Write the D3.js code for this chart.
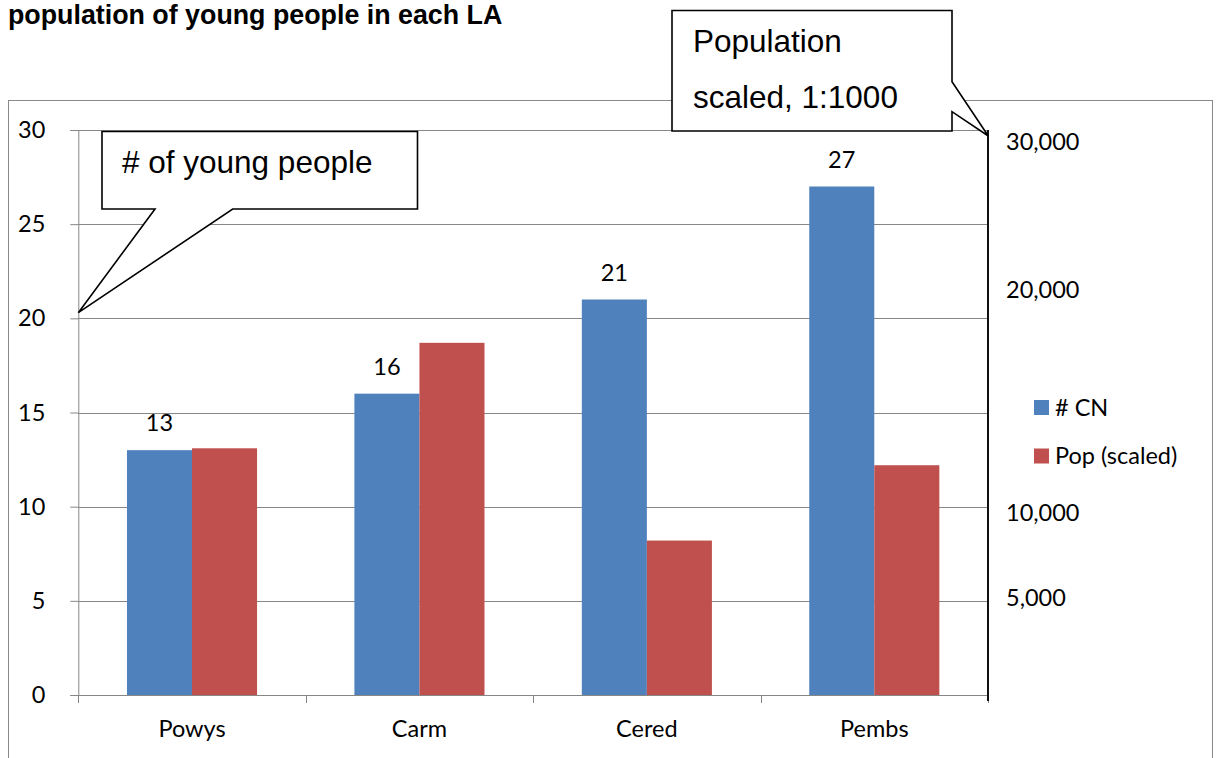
<!DOCTYPE html>
<html>
<head>
<meta charset="utf-8">
<script src="https://cdn.jsdelivr.net/npm/d3@7/dist/d3.min.js"></script>
<style>
	body { margin: 0; background: #fff; }
	svg { display: block; }
	.tick-lbl, .cat-lbl, .data-lbl, .legend-lbl, .right-lbl { font-family: Lato, "Open Sans", sans-serif; font-size: 23.5px; fill: #000; }
	.callout-txt { font-family: "Liberation Sans", Arial, sans-serif; font-size: 31.5px; fill: #000; }
</style>
</head>
<body>
<div id="chart"></div>
<script>
var categories = ['Powys', 'Carm', 'Cered', 'Pembs'];
var cnValues = [13, 16, 21, 27];
var popScaled = [13.1, 18.7, 8.2, 12.2];
var seriesNames = ['# CN', 'Pop (scaled)'];
var leftTicks = [0, 5, 10, 15, 20, 25, 30];
// right axis labels are hand placed in the original, these are the left-axis levels they sit at
var rightLabels = ['30,000', '20,000', '10,000', '5,000'];
var rightLevels = [29.4, 21.5, 9.7, 5.15];

var chart = (function(root){
	return {
		init: function(){
			var svg = d3.select('#chart').append('svg')
				.attr('width', 1218)
				.attr('height', 758);

			var colors = ['#4F81BD', '#C0504D'];
			var left = 78.3, right = 988, top = 130, bottom = 695;

			var y = d3.scaleLinear().domain([0, 30]).range([bottom, top]);
			var x = d3.scaleBand().domain(categories).range([left, right])
				.paddingInner(0.428).paddingOuter(0.214);
			var xs = d3.scaleBand().domain([0, 1]).range([0, x.bandwidth()]);

			// title (only the tail of it is in frame)
			svg.append('text')
				.attr('x', 8)
				.attr('y', 24)
				.style('font-family', '"Liberation Sans", Arial, sans-serif')
				.style('font-size', '26.8px')
				.style('font-weight', 'bold')
				.text('population of young people in each LA');

			// chart frame
			svg.append('rect')
				.attr('x', 8.5)
				.attr('y', 100.5)
				.attr('width', 1204)
				.attr('height', 700)
				.attr('fill', 'none')
				.attr('stroke', '#898989');

			// gridlines
			svg.append('g')
				.selectAll('line')
				.data(leftTicks.slice(1))
				.enter()
				.append('line')
				.attr('x1', left)
				.attr('x2', right)
				.attr('y1', function(d){ return Math.round(y(d)) + 0.5; })
				.attr('y2', function(d){ return Math.round(y(d)) + 0.5; })
				.attr('stroke', '#878787');

			// left axis
			var yAxis = svg.append('g')
				.attr('transform', 'translate(' + left + ',0)')
				.call(d3.axisLeft(y).tickValues(leftTicks).tickSize(8).tickPadding(25));
			yAxis.select('.domain').attr('stroke', '#868686');
			yAxis.selectAll('.tick line').attr('stroke', '#868686');
			yAxis.selectAll('.tick text').attr('class', 'tick-lbl').attr('font-family', null).attr('font-size', null);

			// bars
			var data = categories.map(function(c, i){ return { cat: c, vals: [cnValues[i], popScaled[i]] }; });
			var groups = svg.append('g')
				.selectAll('g')
				.data(data)
				.enter()
				.append('g')
				.attr('transform', function(d){ return 'translate(' + x(d.cat) + ',0)'; });

			groups.selectAll('rect')
				.data(function(d){ return d.vals; })
				.enter()
				.append('rect')
				.attr('x', function(d, i){ return xs(i); })
				.attr('y', function(d){ return y(d); })
				.attr('width', xs.bandwidth())
				.attr('height', function(d){ return y(0) - y(d); })
				.attr('fill', function(d, i){ return colors[i]; });

			// data labels on the blue bars
			groups.append('text')
				.attr('class', 'data-lbl')
				.attr('x', xs(0) + xs.bandwidth() / 2)
				.attr('y', function(d){ return y(d.vals[0]) - 19; })
				.attr('text-anchor', 'middle')
				.text(function(d){ return d.vals[0]; });

			// bottom axis, ticks sit between the categories
			var xAxis = svg.append('g')
				.attr('transform', 'translate(0,' + bottom + ')')
				.call(d3.axisBottom(x).tickSize(0).tickPadding(25));
			xAxis.select('.domain').attr('stroke', '#868686');
			xAxis.selectAll('.tick text').attr('class', 'cat-lbl').attr('font-family', null).attr('font-size', null);
			xAxis.selectAll('.sep')
				.data(d3.range(categories.length + 1))
				.enter()
				.append('line')
				.attr('x1', function(i){ return Math.round(left + i * x.step()) + 0.5; })
				.attr('x2', function(i){ return Math.round(left + i * x.step()) + 0.5; })
				.attr('y1', 0)
				.attr('y2', 8)
				.attr('stroke', '#868686');

			// right axis
			svg.append('line')
				.attr('x1', right)
				.attr('x2', right)
				.attr('y1', top)
				.attr('y2', bottom + 6)
				.attr('stroke', '#111')
				.attr('stroke-width', 2);

			svg.append('g')
				.selectAll('text')
				.data(rightLabels)
				.enter()
				.append('text')
				.attr('class', 'right-lbl')
				.attr('x', 1006)
				.attr('y', function(d, i){ return y(rightLevels[i]); })
				.attr('dy', '0.35em')
				.text(function(d){ return d; });

			// legend
			var legend = svg.append('g')
				.attr('transform', 'translate(1034,400)');
			var item = legend.selectAll('g')
				.data(seriesNames)
				.enter()
				.append('g')
				.attr('transform', function(d, i){ return 'translate(0,' + (i * 48.5) + ')'; });
			item.append('rect')
				.attr('width', 15)
				.attr('height', 15)
				.attr('fill', function(d, i){ return colors[i]; });
			item.append('text')
				.attr('class', 'legend-lbl')
				.attr('x', 21)
				.attr('y', 7.5)
				.attr('dy', '0.35em')
				.text(function(d){ return d; });

			// callouts
			svg.append('path')
				.attr('d', 'M102,131.5H417.5V209H232.7L78.3,312.7L155,209H102Z')
				.attr('fill', '#fff')
				.attr('stroke', '#000')
				.attr('stroke-width', 1.6);
			svg.append('text')
				.attr('class', 'callout-txt')
				.attr('x', 122)
				.attr('y', 173)
				.text('# of young people');

			svg.append('path')
				.attr('d', 'M672,10.5H952V81.7L988.3,136L952,111.7V131H672Z')
				.attr('fill', '#fff')
				.attr('stroke', '#000')
				.attr('stroke-width', 1.6);
			svg.append('text')
				.attr('class', 'callout-txt')
				.attr('x', 693)
				.attr('y', 52)
				.text('Population');
			svg.append('text')
				.attr('class', 'callout-txt')
				.attr('x', 693)
				.attr('y', 108)
				.text('scaled, 1:1000');
		}
	};
})(window);

chart.init();
</script>
</body>
</html>
